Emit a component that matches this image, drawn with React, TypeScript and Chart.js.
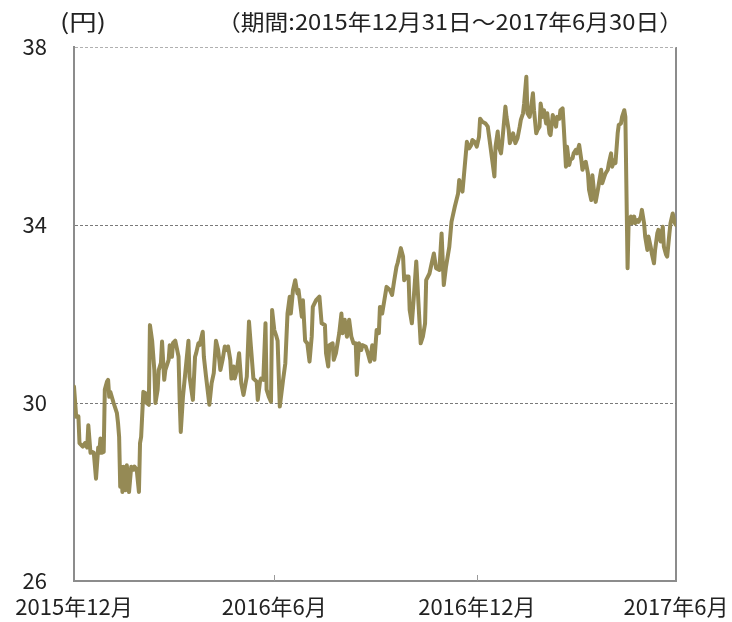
import React, { useEffect, useRef } from 'react';
import { Chart, registerables } from 'chart.js';

Chart.register(...registerables);

// Days since 2015-12-31
const dayOffsets: number[] = [
  0, 2, 4, 5, 8, 10, 12, 13, 15, 17, 18, 20, 22, 23, 24, 25, 27, 28, 30, 31,
  32, 33, 36, 39, 40, 41, 42, 43, 44, 45, 47, 48, 50, 52, 54, 55, 57, 59, 60, 61,
  63, 65, 66, 68, 69, 71, 73, 74, 76, 77, 79, 80, 82, 83, 86, 87, 89, 90, 92,
  95, 96, 97, 99, 102, 104, 105, 108, 110, 111, 113, 114, 117, 118, 120, 123, 125, 127, 129, 131,
  133, 135, 137, 139, 140, 142, 143, 145, 146, 148, 150, 152, 154, 157, 159, 161, 163, 166, 167, 169,
  170, 172, 174, 175, 177, 179, 180, 182, 184,
  185, 187, 190, 192, 194, 196, 197, 199, 201, 203, 204, 207, 208, 210, 212, 214, 216, 217, 220, 223,
  225, 228, 229, 231, 232, 235, 236, 238, 241, 243, 244, 246, 248, 250, 252, 254, 256, 257, 259, 261,
  262, 265, 267, 269, 271, 273, 275, 277, 278, 280, 282, 284, 287, 289, 291, 293, 294, 296, 297, 299,
  300, 302, 304, 305, 307, 309, 311, 313, 315, 317, 319, 320, 323, 325, 327, 329, 332, 334, 336, 338,
  341, 343, 346, 349, 350, 353, 355,
  357, 359, 361, 362, 364, 366, 368, 369, 371, 374, 376, 378, 380, 382, 383, 385, 386, 388, 389, 392,
  393, 395, 396, 398, 399, 401, 403, 405, 406, 408, 409, 411, 412, 414, 415, 417, 418, 420, 421, 423,
  424, 426, 427, 429, 430, 432, 433, 435, 436, 438, 439, 441, 442, 444, 445, 447, 448, 450, 451, 453,
  454, 456, 457, 459, 461, 462, 464, 465, 467, 468, 470, 471, 473, 474, 476, 477, 479, 480, 482, 483,
  485, 486, 488, 489, 491, 492, 494, 495, 497, 498, 500, 501, 503, 504, 506, 507, 509, 510, 512, 513,
  515, 516, 518, 519, 521, 522, 524, 525, 527, 528, 530, 531, 533, 535, 536, 538, 539, 541, 542, 544,
  546, 547,
];

// Price (円)
const prices: number[] = [
  30.37, 29.69, 29.7, 29.1, 29.02, 29.1, 29.0, 29.5, 28.88, 28.9, 28.88, 28.3, 29.0, 28.88, 29.2, 28.88, 28.9, 30.3, 30.48, 30.52,
  30.14, 30.25, 30.0, 29.77, 29.55, 29.24, 28.12, 28.57, 28.0, 28.57, 28.04, 28.6, 28.0, 28.57, 28.5, 28.57, 28.5, 28.0, 29.1, 29.24,
  30.25, 30.22, 30.0, 29.96, 31.75, 31.4, 30.74, 30.0, 30.3, 30.74, 30.9, 31.38, 30.52, 30.74, 30.97, 31.3, 31.04, 31.35, 31.4,
  31.04, 30.07, 29.35, 30.14, 30.9, 31.4, 30.59, 30.07, 31.04, 31.12, 31.34, 31.3, 31.6, 31.04, 30.59, 29.96, 30.44, 30.67, 31.4, 31.19,
  30.74, 30.97, 31.27, 31.19, 31.27, 30.97, 30.55, 30.82, 30.55, 30.74, 31.12, 30.44, 30.18, 30.59, 31.83, 31.19, 30.55, 30.48, 30.07, 30.48,
  30.55, 30.52, 31.79, 30.3, 30.14, 30.03, 32.09, 31.64, 31.49,
  31.4, 29.92, 30.52, 30.89, 32.01, 32.39, 32.01, 32.54, 32.76, 32.46, 32.54, 31.94, 32.31, 31.4, 31.34, 30.93, 31.49, 32.16, 32.31, 32.39,
  31.79, 31.75, 31.12, 30.82, 31.3, 31.34, 30.97, 31.12, 31.57, 32.01, 31.57, 31.87, 31.49, 31.87, 31.49, 31.34, 31.34, 30.63, 31.34, 31.19,
  31.3, 31.27, 31.12, 30.93, 31.3, 30.97, 31.64, 31.57, 32.16, 32.01, 32.31, 32.61, 32.54, 32.43, 32.76, 33.06, 33.14, 33.36, 33.48, 33.29,
  32.76, 32.84, 32.84, 32.09, 31.79, 32.46, 33.18, 32.24, 31.34, 31.49, 31.79, 32.76, 32.91, 33.14, 33.36, 33.03, 32.99, 33.81, 32.65, 33.06,
  33.51, 34.07, 34.41, 34.71, 35.01, 34.75, 35.31,
  35.87, 35.72, 35.8, 35.91, 35.87, 35.76, 35.98, 36.39, 36.32, 36.28, 36.21, 35.84, 35.46, 35.09, 35.76, 36.1, 35.76, 35.61, 35.84, 36.66,
  36.43, 36.13, 35.84, 35.98, 36.06, 35.84, 35.95, 36.21, 36.36, 36.51, 36.73, 37.33, 36.51, 36.43, 36.58, 36.96, 36.58, 36.06, 36.13, 36.21,
  36.73, 36.43, 36.58, 36.28, 36.51, 36.06, 36.02, 36.47, 36.39, 36.21, 36.43, 36.39, 36.58, 36.62, 36.21, 35.31, 35.76, 35.35, 35.46, 35.5,
  35.61, 35.69, 35.61, 35.8, 35.46, 35.24, 35.39, 35.42, 35.16, 34.79, 34.56, 35.12, 34.64, 34.52, 34.79, 34.94, 35.24, 34.94, 35.09, 35.16,
  35.24, 35.39, 35.61, 35.31, 35.46, 35.39, 36.06, 36.25, 36.28, 36.43, 36.58, 36.43, 33.03, 34.11, 34.19, 34.04, 34.19, 34.04, 34.11, 34.07,
  34.19, 34.34, 34.04, 33.74, 33.44, 33.74, 33.51, 33.36, 33.14, 33.44, 33.81, 33.89, 33.63, 33.96, 33.51, 33.33, 33.29, 33.81, 34.04, 34.26,
  34.04, 34.0,
];

const xTickDays: number[] = [0, 182, 366, 547];
const xTickLabels: string[] = ['2015年12月', '2016年6月', '2016年12月', '2017年6月'];
const yTickValues: number[] = [26, 30, 34, 38];
const unitLabel = '(円)';
const periodLabel = '（期間:2015年12月31日～2017年6月30日）';

const FONT = '"Noto Sans CJK JP", "Noto Sans", sans-serif';
const TEXT = '#222222';
const AXIS = '#8c8c8c';

function fitText(ctx: CanvasRenderingContext2D, text: string, x: number, y: number, width: number) {
  const w = ctx.measureText(text).width;
  ctx.save();
  ctx.translate(x, y);
  ctx.scale(width / w, 1);
  ctx.fillText(text, 0, 0);
  ctx.restore();
}

export default function App() {
  const ref = useRef<HTMLCanvasElement | null>(null);

  useEffect(() => {
    if (!ref.current) return;
    const extras = {
      id: 'extras',
      afterDraw(chart: any) {
        const { ctx, chartArea, scales } = chart;
        ctx.save();
        ctx.fillStyle = TEXT;
        ctx.font = `22px ${FONT}`;
        ctx.textBaseline = 'middle';
        ctx.textAlign = 'left';
        fitText(ctx, unitLabel, 60, 22, 46);
        fitText(ctx, periodLabel, 217, 22, 466);
        const xs = scales.x;
        ctx.strokeStyle = '#9a9a9a';
        ctx.lineWidth = 1;
        xTickDays.slice(1, -1).forEach((d) => {
          const px = Math.round(xs.getPixelForValue(d)) + 0.5;
          ctx.beginPath();
          ctx.moveTo(px, chartArea.bottom);
          ctx.lineTo(px, chartArea.bottom - 6);
          ctx.stroke();
        });
        ctx.restore();
      },
    };

    const chart = new Chart(ref.current, {
      type: 'line',
      data: {
        datasets: [
          {
            data: dayOffsets.map((d, i) => ({ x: d, y: prices[i] })),
            borderColor: '#958a55',
            borderWidth: 4,
            pointRadius: 0,
            tension: 0,
            borderJoinStyle: 'round',
            borderCapStyle: 'round',
          } as any,
        ],
      },
      options: {
        responsive: false,
        animation: false,
        layout: { padding: { top: 47, right: 56, left: 0, bottom: 0 } },
        plugins: { legend: { display: false }, tooltip: { enabled: false } },
        scales: {
          x: {
            type: 'linear',
            min: 0,
            max: 547,
            afterBuildTicks: (s: any) => {
              s.ticks = xTickDays.map((v) => ({ value: v }));
            },
            afterFit: (s: any) => {
              s.height = 41;
              s.paddingLeft = 0;
              s.paddingRight = 0;
            },
            ticks: {
              autoSkip: false,
              maxRotation: 0,
              padding: 12,
              color: TEXT,
              font: { family: FONT, size: 22 },
              callback: (v: any) => {
                const i = xTickDays.indexOf(Number(v));
                return i >= 0 ? xTickLabels[i] : '';
              },
            },
            grid: {
              drawTicks: false,
              lineWidth: 2,
              color: (c: any) => (c.tick && c.tick.value === 547 ? AXIS : 'rgba(0,0,0,0)'),
            },
            border: { display: true, color: AXIS, width: 2 },
          },
          y: {
            min: 26,
            max: 38,
            afterBuildTicks: (s: any) => {
              s.ticks = yTickValues.map((v) => ({ value: v }));
            },
            afterFit: (s: any) => {
              s.width = 74;
              s.paddingTop = 0;
              s.paddingBottom = 0;
            },
            ticks: {
              padding: 27,
              color: TEXT,
              font: { family: FONT, size: 22 },
            },
            grid: {
              drawTicks: false,
              lineWidth: 1,
              color: (c: any) => {
                const v = c.tick ? c.tick.value : null;
                if (v === 26) return 'rgba(0,0,0,0)';
                if (v === 38) return '#b0b0b0';
                return '#7a7a7a';
              },
            },
            border: { display: true, color: AXIS, width: 2, dash: [3, 2] },
          },
        },
      } as any,
      plugins: [extras],
    });
    return () => chart.destroy();
  }, []);

  return (
    <div style={{ position: 'absolute', left: 0, top: 0, width: 732, height: 622, background: '#ffffff' }}>
      <canvas ref={ref} width={732} height={622} style={{ display: 'block' }} />
    </div>
  );
}
